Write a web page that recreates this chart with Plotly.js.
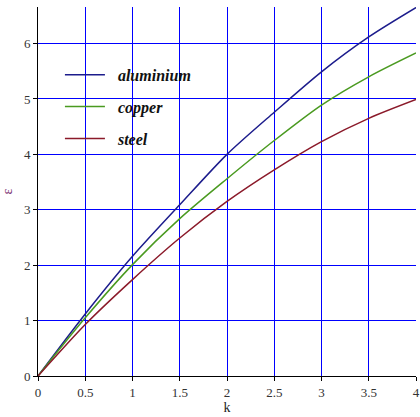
<!DOCTYPE html>
<html>
<head>
<meta charset="utf-8">
<script src="https://cdn.plot.ly/plotly-3.0.1.min.js"></script>
<style>html,body{margin:0;padding:0;background:#fff;}#chart{width:420px;height:417px;}</style>
</head>
<body>
<div id="chart"></div>
<script>
var k = [0, 0.5, 1, 1.5, 2, 2.5, 3, 3.5, 4];
var aluminium = [0, 1.12, 2.16, 3.09, 4.0, 4.76, 5.49, 6.12, 6.65];
var copper = [0, 1.05, 2.01, 2.84, 3.56, 4.25, 4.89, 5.40, 5.83];
var steel = [0, 0.93, 1.74, 2.49, 3.15, 3.72, 4.23, 4.65, 4.99];
var names = ["aluminium", "copper", "steel"];
var colors = ["#1c1c8c", "#4a9a20", "#8b1a2a"];
var series = [aluminium, copper, steel];
var xTickStep = 0.5;
var yTickStep = 1;

var traces = series.map(function (s, i) {
  return {
    x: k, y: s, type: "scatter", mode: "lines", name: "\u00a0\u00a0" + names[i],
    legendgroup: "g" + i,
    line: {color: colors[i], width: 1.5, shape: "spline", smoothing: 0.8}
  };
});

var layout = {
  width: 420, height: 417,
  margin: {l: 38, r: 4, t: 7, b: 41},
  paper_bgcolor: "#fff", plot_bgcolor: "#fff",
  font: {family: "Liberation Serif", size: 13, color: "#222"},
  showlegend: true,
  legend: {
    x: 0.058, y: 0.862, xanchor: "left", yanchor: "top",
    bgcolor: "rgba(0,0,0,0)", borderwidth: 0,
    tracegroupgap: 8, itemwidth: 40,
    font: {family: "Liberation Serif", size: 16, color: "#111", weight: "bold", style: "italic"}
  },
  xaxis: {
    range: [0, 4.0], tickmode: "linear", tick0: 0, dtick: xTickStep,
    showgrid: true, gridcolor: "rgb(0,0,255)", gridwidth: 1,
    zeroline: false, showline: true, linecolor: "#000", linewidth: 1,
    ticks: "outside", ticklen: 4, tickcolor: "#000",
    tickfont: {family: "Liberation Serif", size: 13, color: "#333"},
    title: {text: "k", standoff: 2, font: {family: "Liberation Serif", size: 14, color: "#222"}}
  },
  yaxis: {
    range: [0, 6.66], tickmode: "linear", tick0: 0, dtick: yTickStep,
    showgrid: true, gridcolor: "rgb(0,0,255)", gridwidth: 1,
    zeroline: false, showline: true, linecolor: "#000", linewidth: 1,
    ticks: "outside", ticklen: 4, tickcolor: "#000",
    tickfont: {family: "Liberation Serif", size: 13, color: "#333"},
    title: {text: "ε", standoff: 8, font: {family: "Liberation Serif", size: 14, color: "#7a3070"}}
  }
};

Plotly.newPlot("chart", traces, layout, {displayModeBar: false});
</script>
</body>
</html>
